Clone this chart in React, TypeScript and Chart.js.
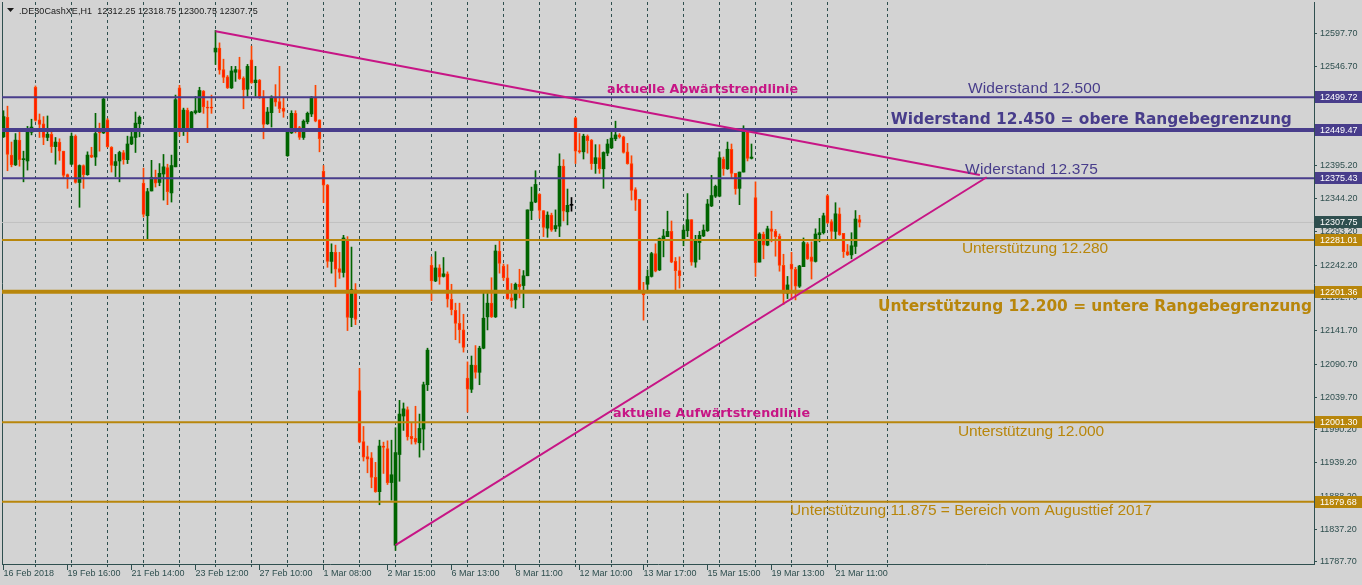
import { useEffect, useRef } from "react";
import { Chart, registerables } from "chart.js";

Chart.register(...registerables);

// ---- data ----
const candleOpen = [
  12439, 12469, 12411, 12396, 12434, 12404, 12402, 12446, 12515, 12465,
  12459, 12438, 12443, 12424, 12431, 12417, 12381, 12397, 12440, 12369,
  12395, 12381, 12411, 12408, 12446, 12445, 12465, 12423, 12395, 12402,
  12415, 12404, 12428, 12438, 12459, 12368, 12318, 12356, 12377, 12369,
  12382, 12392, 12353, 12393, 12514, 12452, 12480, 12450, 12476, 12477,
  12509, 12484, 12484, 12569, 12575, 12542, 12531, 12514, 12538, 12542,
  12529, 12512, 12557, 12522, 12526, 12500, 12459, 12476, 12500, 12493,
  12483, 12410, 12445, 12475, 12453, 12438, 12462, 12474, 12500, 12465,
  12386, 12365, 12248, 12262, 12237, 12231, 12282, 12162, 12205, 12050,
  11972, 11949, 11947, 11917, 11895, 11965, 11961, 11909, 11813, 11952,
  12011, 12021, 11980, 11977, 11970, 11991, 12059, 12242, 12218, 12238,
  12225, 12229, 12190, 12173, 12153, 12143, 12069, 12052, 12089, 12078,
  12115, 12163, 12184, 12163, 12264, 12241, 12223, 12192, 12189, 12213,
  12211, 12226, 12326, 12339, 12351, 12326, 12299, 12319, 12298, 12302,
  12394, 12324, 12334, 12468, 12418, 12416, 12440, 12434, 12398, 12407,
  12390, 12414, 12422, 12436, 12442, 12439, 12416, 12398, 12358, 12343,
  12202, 12213, 12225, 12260, 12235, 12281, 12286, 12294, 12248, 12234,
  12282, 12295, 12312, 12247, 12277, 12287, 12295, 12333, 12348, 12348,
  12405, 12390, 12420, 12383, 12360, 12385, 12449, 12406, 12346, 12247,
  12290, 12273, 12298, 12294, 12287, 12242, 12199, 12244, 12236, 12210,
  12240, 12275, 12255, 12248, 12289, 12292, 12349, 12309, 12294, 12321,
  12291, 12263, 12258, 12271, 12312.25,
];
const candleHigh = [
  12479, 12486, 12431, 12444, 12447, 12417, 12455, 12466, 12517, 12474,
  12470, 12471, 12447, 12438, 12436, 12417, 12382, 12445, 12442, 12396,
  12396, 12416, 12423, 12475, 12460, 12498, 12467, 12424, 12412, 12417,
  12418, 12440, 12446, 12477, 12471, 12391, 12360, 12403, 12388, 12398,
  12412, 12397, 12411, 12503, 12518, 12483, 12483, 12478, 12501, 12515,
  12510, 12494, 12503, 12602, 12583, 12558, 12533, 12547, 12547, 12561,
  12531, 12550, 12578, 12547, 12527, 12510, 12484, 12502, 12519, 12547,
  12499, 12450, 12479, 12479, 12455, 12465, 12477, 12501, 12518, 12465,
  12395, 12366, 12275, 12273, 12262, 12288, 12286, 12270, 12214, 12084,
  11995, 11965, 11955, 11940, 11974, 11971, 11973, 11974, 11993, 12035,
  12031, 12025, 12000, 12026, 12014, 12063, 12115, 12255, 12263, 12243,
  12254, 12232, 12213, 12184, 12184, 12167, 12094, 12103, 12119, 12118,
  12203, 12203, 12223, 12273, 12279, 12244, 12243, 12214, 12215, 12236,
  12234, 12327, 12362, 12387, 12352, 12326, 12324, 12322, 12327, 12413,
  12404, 12359, 12346, 12469, 12444, 12443, 12442, 12435, 12427, 12427,
  12416, 12435, 12451, 12463, 12444, 12440, 12429, 12410, 12361, 12343,
  12216, 12235, 12262, 12275, 12284, 12297, 12325, 12310, 12254, 12255,
  12303, 12352, 12312, 12288, 12294, 12304, 12343, 12380, 12365, 12416,
  12408, 12431, 12428, 12383, 12385, 12456, 12451, 12428, 12370, 12292,
  12293, 12302, 12325, 12297, 12290, 12259, 12225, 12262, 12239, 12242,
  12284, 12277, 12278, 12298, 12314, 12322, 12350, 12312, 12338, 12330,
  12291, 12274, 12292, 12326, 12318.75,
];
const candleLow = [
  12438, 12387, 12393, 12395, 12394, 12370, 12388, 12442, 12463, 12438,
  12427, 12433, 12415, 12397, 12403, 12375, 12360, 12396, 12368, 12331,
  12360, 12380, 12407, 12395, 12417, 12444, 12423, 12385, 12378, 12370,
  12397, 12398, 12427, 12415, 12439, 12316, 12282, 12356, 12362, 12364,
  12342, 12335, 12339, 12393, 12440, 12441, 12430, 12447, 12474, 12476,
  12475, 12448, 12475, 12550, 12535, 12522, 12513, 12513, 12524, 12527,
  12482, 12501, 12521, 12501, 12498, 12436, 12458, 12454, 12486, 12476,
  12469, 12409, 12444, 12445, 12435, 12435, 12459, 12470, 12462, 12416,
  12338, 12239, 12230, 12209, 12222, 12224, 12142, 12148, 12151, 11970,
  11942, 11924, 11901, 11894, 11875, 11923, 11906, 11882, 11805, 11911,
  11989, 11974, 11968, 11968, 11948, 11959, 12050, 12188, 12217, 12213,
  12224, 12178, 12166, 12128, 12123, 12109, 12017, 12047, 12069, 12059,
  12114, 12143, 12162, 12162, 12230, 12219, 12190, 12178, 12176, 12192,
  12177, 12226, 12312, 12338, 12314, 12286, 12285, 12294, 12294, 12286,
  12310, 12304, 12325, 12398, 12414, 12405, 12414, 12389, 12383, 12383,
  12360, 12410, 12421, 12433, 12437, 12414, 12397, 12342, 12326, 12201,
  12158, 12200, 12224, 12232, 12234, 12255, 12286, 12246, 12201, 12207,
  12272, 12286, 12242, 12239, 12251, 12286, 12294, 12332, 12346, 12347,
  12380, 12389, 12375, 12351, 12335, 12385, 12402, 12405, 12225, 12247,
  12252, 12272, 12278, 12256, 12233, 12182, 12191, 12190, 12189, 12208,
  12240, 12251, 12221, 12247, 12278, 12290, 12306, 12281, 12282, 12288,
  12254, 12257, 12252, 12260, 12300.75,
];
const candleClose = [
  12470, 12412, 12396, 12434, 12404, 12405, 12447, 12454, 12464, 12458,
  12438, 12443, 12424, 12431, 12417, 12380, 12377, 12440, 12369, 12395,
  12381, 12411, 12408, 12444, 12445, 12497, 12424, 12395, 12401, 12415,
  12404, 12428, 12439, 12460, 12469, 12320, 12355, 12377, 12368, 12383,
  12393, 12355, 12395, 12496, 12452, 12480, 12448, 12477, 12479, 12510,
  12485, 12483, 12483, 12575, 12541, 12530, 12514, 12540, 12542, 12528,
  12511, 12547, 12522, 12526, 12500, 12458, 12477, 12500, 12492, 12482,
  12478, 12447, 12475, 12452, 12438, 12463, 12475, 12500, 12463, 12436,
  12365, 12248, 12262, 12236, 12231, 12284, 12162, 12205, 12159, 11971,
  11948, 11945, 11917, 11895, 11965, 11963, 11909, 11921, 11955, 12014,
  12022, 11979, 11976, 11971, 11992, 12059, 12112, 12218, 12238, 12224,
  12229, 12190, 12174, 12153, 12143, 12116, 12052, 12089, 12078, 12115,
  12161, 12184, 12163, 12264, 12245, 12223, 12191, 12188, 12213, 12209,
  12226, 12327, 12339, 12366, 12326, 12300, 12319, 12296, 12303, 12394,
  12325, 12334, 12334, 12417, 12416, 12440, 12433, 12398, 12407, 12390,
  12415, 12428, 12437, 12442, 12439, 12415, 12398, 12357, 12342, 12202,
  12197, 12225, 12260, 12233, 12283, 12287, 12294, 12247, 12234, 12226,
  12296, 12312, 12247, 12280, 12288, 12296, 12336, 12349, 12363, 12407,
  12390, 12420, 12383, 12359, 12385, 12448, 12406, 12408, 12246, 12290,
  12273, 12298, 12294, 12286, 12242, 12199, 12212, 12236, 12210, 12241,
  12277, 12252, 12248, 12290, 12292, 12318, 12307, 12294, 12321, 12289,
  12263, 12258, 12272, 12313, 12307.75,
];

const timeTickIndex = [0, 16, 32, 48, 64, 80, 96, 112, 128, 144, 160, 176, 192, 208];
const timeTickLabels = [
  "16 Feb 2018", "19 Feb 16:00", "21 Feb 14:00", "23 Feb 12:00", "27 Feb 10:00",
  "1 Mar 08:00", "2 Mar 15:00", "6 Mar 13:00", "8 Mar 11:00", "12 Mar 10:00",
  "13 Mar 17:00", "15 Mar 15:00", "19 Mar 13:00", "21 Mar 11:00",
];
const gridLineIndex = [
  8, 17, 26, 35, 44, 53, 62, 71, 80, 89, 98, 107, 116, 125, 134, 143, 152, 161,
  170, 179, 188, 197, 206, 221,
];
const priceTicks = [
  12597.7, 12546.7, 12495.7, 12444.7, 12395.2, 12344.2, 12293.2, 12242.2,
  12192.7, 12141.7, 12090.7, 12039.7, 11990.2, 11939.2, 11888.2, 11837.2, 11787.7,
];
const resistanceLevels = [12499.72, 12449.47, 12375.43];
const supportLevels = [12281.01, 12201.36, 12001.3, 11879.68];
const currentPrice = 12307.75;
const downTrendIndex = [53, 244.1];
const downTrendPrice = [12601, 12380.5];
const upTrendIndex = [98, 245.8];
const upTrendPrice = [11813, 12377];
const titleText = ".DE30CashXE,H1  12312.25 12318.75 12300.75 12307.75";

// ---- styles / layout ----
const BG = "#D3D3D3";
const AXIS = "#2F4F4F";
const BLUE = "#483D8B";
const GOLD = "#B8860B";
const MAGENTA = "#C71585";
const GREEN = "#006400";
const RED = "#FF1A00";
const ORANGE = "#FF4500";
const FONT = "'Liberation Sans', Arial, sans-serif";
const BOLD_FONT = "'DejaVu Sans', Verdana, sans-serif";
const X_MIN = -0.375;
const X_MAX = 327.625;
const Y_MIN = 11784.17;
const Y_MAX = 12645.68;
const resistanceWidth = [2, 4, 2];
const supportWidth = [2, 4, 2, 2];

const annotations = [
  { text: "aktuelle Abwärtstrendlinie", idx: 150.9, price: 12511.0, w: 191, bold: true, size: 12.7, color: MAGENTA },
  { text: "Widerstand 12.500", idx: 241.1, price: 12512.5, w: 133, bold: false, size: 15.5, color: BLUE },
  { text: "Widerstand 12.450 = obere Rangebegrenzung", idx: 221.8, price: 12465.0, w: 401, bold: true, size: 15.4, color: BLUE },
  { text: "Widerstand 12.375", idx: 240.4, price: 12388.0, w: 133, bold: false, size: 15.5, color: BLUE },
  { text: "Unterstützung 12.280", idx: 239.6, price: 12267.3, w: 146, bold: false, size: 15.5, color: GOLD },
  { text: "Unterstützung 12.200 = untere Rangebegrenzung", idx: 218.6, price: 12177.5, w: 434, bold: true, size: 15.4, color: GOLD },
  { text: "aktuelle Aufwärtstrendlinie", idx: 152.4, price: 12014.3, w: 197, bold: true, size: 12.7, color: MAGENTA },
  { text: "Unterstützung 12.000", idx: 238.6, price: 11986.7, w: 146, bold: false, size: 15.5, color: GOLD },
  { text: "Unterstützung 11.875 = Bereich vom Augusttief 2017", idx: 196.6, price: 11865.6, w: 362, bold: false, size: 15.5, color: GOLD },
];

function fitText(ctx: CanvasRenderingContext2D, text: string, x: number, y: number, w: number) {
  (ctx as any).letterSpacing = "0px";
  const m = ctx.measureText(text).width;
  const sp = (w - m) / text.length;
  (ctx as any).letterSpacing = sp.toFixed(2) + "px";
  ctx.fillText(text, x, y);
  (ctx as any).letterSpacing = "0px";
}

const overlayPlugin = {
  id: "overlay",
  afterDraw(chart: any) {
    const ctx: CanvasRenderingContext2D = chart.ctx;
    const xs = chart.scales.x;
    const ys = chart.scales.y;
    ctx.save();
    // annotations
    ctx.textBaseline = "middle";
    ctx.textAlign = "left";
    for (const a of annotations) {
      ctx.font = a.bold ? `bold ${a.size}px ${BOLD_FONT}` : `${a.size}px ${FONT}`;
      ctx.fillStyle = a.color;
      fitText(ctx, a.text, xs.getPixelForValue(a.idx), ys.getPixelForValue(a.price), a.w);
    }
    // price labels on the axis
    const boxes = [
      ...resistanceLevels.map((v) => ({ v, bg: BLUE })),
      ...supportLevels.map((v) => ({ v, bg: GOLD })),
      { v: currentPrice, bg: AXIS },
    ];
    const left = chart.chartArea.right + 1;
    ctx.font = `9px ${FONT}`;
    for (const b of boxes) {
      const y = Math.round(ys.getPixelForValue(b.v));
      ctx.fillStyle = b.bg;
      ctx.fillRect(left, y - 6, chart.width - left, 12);
      ctx.fillStyle = "#FFFFFF";
      ctx.fillText(b.v.toFixed(2), left + 5, y + 0.5);
    }
    // title
    ctx.fillStyle = "#1A1A1A";
    ctx.beginPath();
    ctx.moveTo(7, 8);
    ctx.lineTo(14, 8);
    ctx.lineTo(10.5, 12);
    ctx.closePath();
    ctx.fill();
    ctx.font = `9px ${FONT}`;
    ctx.textBaseline = "alphabetic";
    fitText(ctx, titleText, 19, 14, 239);
    ctx.restore();
  },
};

export default function App() {
  const ref = useRef<HTMLCanvasElement>(null);
  useEffect(() => {
    const canvas = ref.current!;
    const idx = candleOpen.map((_, i) => i);
    const dir = idx.map((i) => (candleClose[i] > candleOpen[i] ? 1 : candleClose[i] < candleOpen[i] ? -1 : 0));
    const wickColor = dir.map((d) => (d > 0 ? GREEN : d < 0 ? ORANGE : "#000000"));
    const bodyFill = dir.map((d) => (d > 0 ? GREEN : d < 0 ? RED : "#000000"));
    const bodyBorder = dir.map((d) => (d > 0 ? GREEN : d < 0 ? ORANGE : "#000000"));
    const bodyBorderW = dir.map((d) => (d < 0 ? 1 : 0));

    const hline = (v: number, color: string, width: number, order: number) => ({
      type: "line",
      data: [{ x: X_MIN, y: v }, { x: X_MAX, y: v }],
      borderColor: color,
      borderWidth: width,
      pointRadius: 0,
      tension: 0,
      fill: false,
      order,
    });

    const datasets: any[] = [
      hline(currentPrice, "#C0C0C0", 1, 10),
      {
        type: "bar",
        data: idx.map((i) => ({ x: i, y: [candleLow[i], candleHigh[i]] })),
        backgroundColor: wickColor,
        borderWidth: 0,
        barThickness: 1,
        maxBarThickness: 1,
        grouped: false,
        order: 6,
      },
      {
        type: "bar",
        data: idx.map((i) => ({ x: i, y: [candleOpen[i], candleClose[i]] })),
        backgroundColor: bodyFill,
        borderColor: bodyBorder,
        borderWidth: bodyBorderW,
        borderSkipped: false,
        barThickness: 3,
        maxBarThickness: 3,
        minBarLength: 1,
        grouped: false,
        order: 5,
      },
      ...resistanceLevels.map((v, k) => hline(v, BLUE, resistanceWidth[k], 2)),
      ...supportLevels.map((v, k) => hline(v, GOLD, supportWidth[k], 2)),
      {
        type: "line",
        data: downTrendIndex.map((x, k) => ({ x, y: downTrendPrice[k] })),
        borderColor: MAGENTA,
        borderWidth: 2,
        pointRadius: 0,
        fill: false,
        order: 1,
      },
      {
        type: "line",
        data: upTrendIndex.map((x, k) => ({ x, y: upTrendPrice[k] })),
        borderColor: MAGENTA,
        borderWidth: 2,
        pointRadius: 0,
        fill: false,
        order: 1,
      },
    ];

    const tickFont = { family: FONT, size: 9 };
    const chart = new Chart(canvas, {
      type: "bar",
      data: { datasets },
      plugins: [overlayPlugin],
      options: {
        animation: false,
        responsive: false,
        devicePixelRatio: 1,
        events: [],
        layout: { padding: { left: 0, top: 2, right: 0, bottom: 0 }, autoPadding: false },
        plugins: { legend: { display: false }, tooltip: { enabled: false }, title: { display: false } },
        scales: {
          x: {
            type: "linear",
            position: "bottom",
            weight: 1,
            min: X_MIN,
            max: X_MAX,
            offset: false,
            afterBuildTicks: (s: any) => {
              s.ticks = timeTickIndex.map((v) => ({ value: v }));
            },
            afterFit: (s: any) => {
              s.height = 21;
              s.paddingLeft = 0;
              s.paddingRight = 0;
            },
            ticks: {
              autoSkip: false,
              maxRotation: 0,
              minRotation: 0,
              align: "start",
              padding: -2,
              color: AXIS,
              font: tickFont,
              callback: (_v: any, i: number) => timeTickLabels[i],
            },
            grid: { offset: false, drawOnChartArea: false, drawTicks: true, tickLength: 6, color: AXIS, tickWidth: 1 },
            border: { display: true, color: AXIS, width: 1 },
          },
          xg: {
            type: "linear",
            position: "bottom",
            weight: 0,
            min: X_MIN,
            max: X_MAX,
            offset: false,
            afterBuildTicks: (s: any) => {
              s.ticks = gridLineIndex.map((v) => ({ value: v }));
            },
            afterFit: (s: any) => {
              s.height = 0;
              s.paddingLeft = 0;
              s.paddingRight = 0;
            },
            ticks: { display: false },
            grid: { offset: false, drawOnChartArea: true, drawTicks: true, tickLength: 3, color: AXIS, lineWidth: 1 },
            border: { display: false, dash: [3, 3] },
          },
          y: {
            type: "linear",
            position: "right",
            min: Y_MIN,
            max: Y_MAX,
            beginAtZero: false,
            afterBuildTicks: (s: any) => {
              s.ticks = priceTicks.map((v) => ({ value: v }));
            },
            afterFit: (s: any) => {
              s.width = 48;
              s.paddingTop = 0;
              s.paddingBottom = 0;
            },
            ticks: {
              padding: 3,
              color: AXIS,
              font: tickFont,
              callback: (v: any) => Number(v).toFixed(2),
            },
            grid: { drawOnChartArea: false, drawTicks: true, tickLength: 3, color: AXIS },
            border: { display: true, color: AXIS, width: 1 },
          },
          yl: {
            type: "linear",
            position: "left",
            min: Y_MIN,
            max: Y_MAX,
            ticks: { display: false },
            afterFit: (s: any) => {
              s.width = 2;
              s.paddingTop = 0;
              s.paddingBottom = 0;
            },
            grid: { drawOnChartArea: false, drawTicks: false },
            border: { display: true, color: AXIS, width: 1 },
          },
        },
      } as any,
    });
    return () => chart.destroy();
  }, []);

  return (
    <div style={{ position: "fixed", left: 0, top: 0, width: 1362, height: 585, background: BG }}>
      <canvas ref={ref} width={1362} height={585} style={{ display: "block" }} />
    </div>
  );
}
